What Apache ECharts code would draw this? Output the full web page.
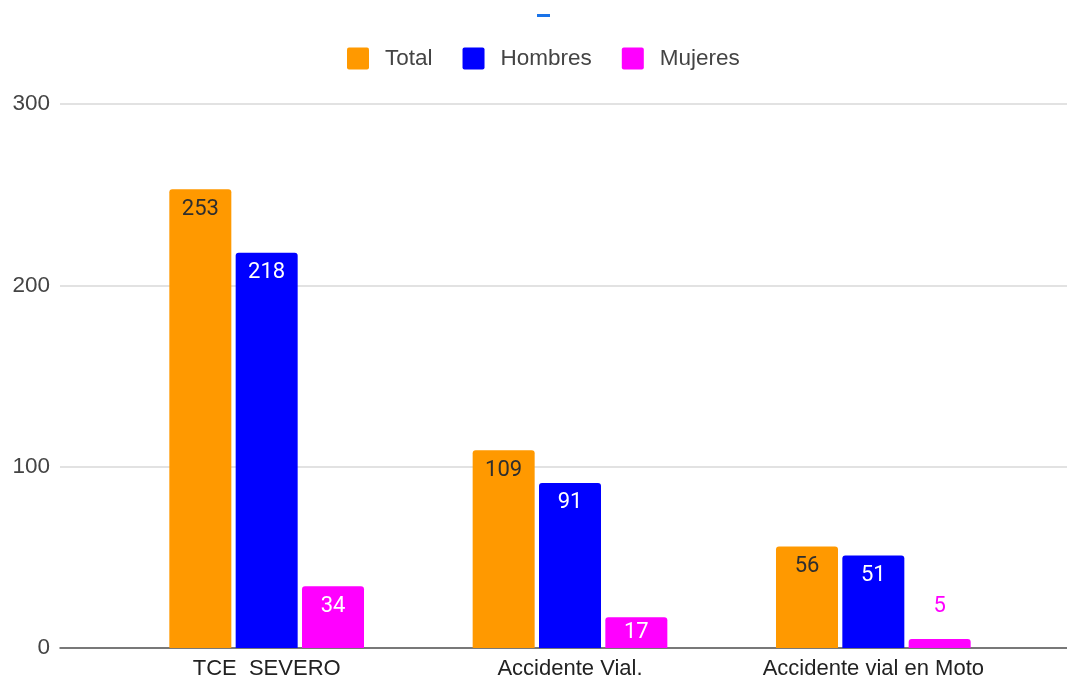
<!DOCTYPE html>
<html>
<head>
<meta charset="utf-8">
<style>
  html, body { margin: 0; padding: 0; background: #ffffff; }
  #chart { width: 1067px; height: 680px; }
</style>
<script src="https://cdn.jsdelivr.net/npm/echarts@6/dist/echarts.min.js"></script>
</head>
<body>
<div id="chart"></div>
<script>
// Casos por categoría de accidente
const categories = ['TCE  SEVERO', 'Accidente Vial.', 'Accidente vial en Moto'];
const totalValues = [253, 109, 56];
const hombresValues = [218, 91, 51];
const mujeresValues = [34, 17, 5];
const yTicks = [0, 100, 200, 300];

const seriesNames = ['Total', 'Hombres', 'Mujeres'];
const seriesColors = ['#ff9900', '#0000ff', '#ff00ff'];
const labelColors = ['#2e2e2e', '#ffffff', '#ffffff'];

const axisFont = 'Liberation Sans, Arial, sans-serif';
const valueFont = 'Roboto, Arial, sans-serif';

// Square legend swatch with slightly softened corners
const swatch = 'path://M2,0 H20 A2,2 0 0 1 22,2 V20 A2,2 0 0 1 20,22 H2 A2,2 0 0 1 0,20 V2 A2,2 0 0 1 2,0 Z';

// Label placement depends on how much room the bar offers:
// tiny bars carry the value above, short bars centre it, the rest hang it from the top
function buildData(values, idx) {
  return values.map(function (v) {
    if (v < 10) {
      return {
        value: v,
        label: { position: 'top', distance: 21, color: seriesColors[idx] }
      };
    }
    if (v < 25) {
      return { value: v, label: { position: 'inside' } };
    }
    return v;
  });
}

const valuesBySeries = [totalValues, hombresValues, mujeresValues];

const chart = echarts.init(document.getElementById('chart'), null, { renderer: 'canvas' });

chart.setOption({
  animation: false,
  backgroundColor: '#ffffff',
  textStyle: { fontFamily: axisFont },
  graphic: [{
    type: 'rect',
    left: 537, top: 14,
    shape: { width: 13, height: 3 },
    style: { fill: '#1a73e8' }
  }],
  legend: {
    top: 42,
    left: 342,
    itemWidth: 22,
    itemHeight: 22,
    itemGap: 30,
    icon: swatch,
    textStyle: { fontSize: 22.5, color: '#444444', fontFamily: axisFont, padding: [0, 0, 0, 11] },
    data: seriesNames
  },
  grid: [
    // full-width area carrying the value scale and gridlines
    { left: 60, right: 0, top: 104, bottom: 32, containLabel: false },
    // area where the category groups are laid out
    { left: 115, right: 42, top: 104, bottom: 32, containLabel: false }
  ],
  xAxis: [
    {
      gridIndex: 0,
      type: 'category',
      data: [''],
      axisLine: { show: true, lineStyle: { color: '#555555', width: 1.5 } },
      axisTick: { show: false },
      axisLabel: { show: false },
      splitLine: { show: false }
    },
    {
      gridIndex: 1,
      type: 'category',
      data: categories,
      axisLine: { show: false },
      axisTick: { show: false },
      axisLabel: { fontSize: 22, color: '#222222', margin: 10, fontFamily: axisFont },
      splitLine: { show: false }
    }
  ],
  yAxis: [
    {
      gridIndex: 0,
      type: 'value',
      min: yTicks[0],
      max: yTicks[yTicks.length - 1],
      interval: yTicks[1] - yTicks[0],
      axisLine: { show: false },
      axisTick: { show: false },
      axisLabel: { fontSize: 22.5, color: '#444444', margin: 10, fontFamily: axisFont },
      splitLine: { show: true, lineStyle: { color: '#d9d9d9', width: 1.5 } }
    },
    {
      gridIndex: 1,
      type: 'value',
      min: yTicks[0],
      max: yTicks[yTicks.length - 1],
      interval: yTicks[1] - yTicks[0],
      show: false,
      splitLine: { show: false }
    }
  ],
  series: seriesNames.map(function (name, i) {
    return {
      name: name,
      type: 'bar',
      xAxisIndex: 1,
      yAxisIndex: 1,
      barWidth: 62,
      barGap: '7%',
      itemStyle: { color: seriesColors[i], borderRadius: [3, 3, 0, 0] },
      label: {
        show: true,
        position: 'insideTop',
        distance: 9,
        fontSize: 22,
        fontFamily: valueFont,
        color: labelColors[i]
      },
      data: buildData(valuesBySeries[i], i)
    };
  })
});
</script>
</body>
</html>
